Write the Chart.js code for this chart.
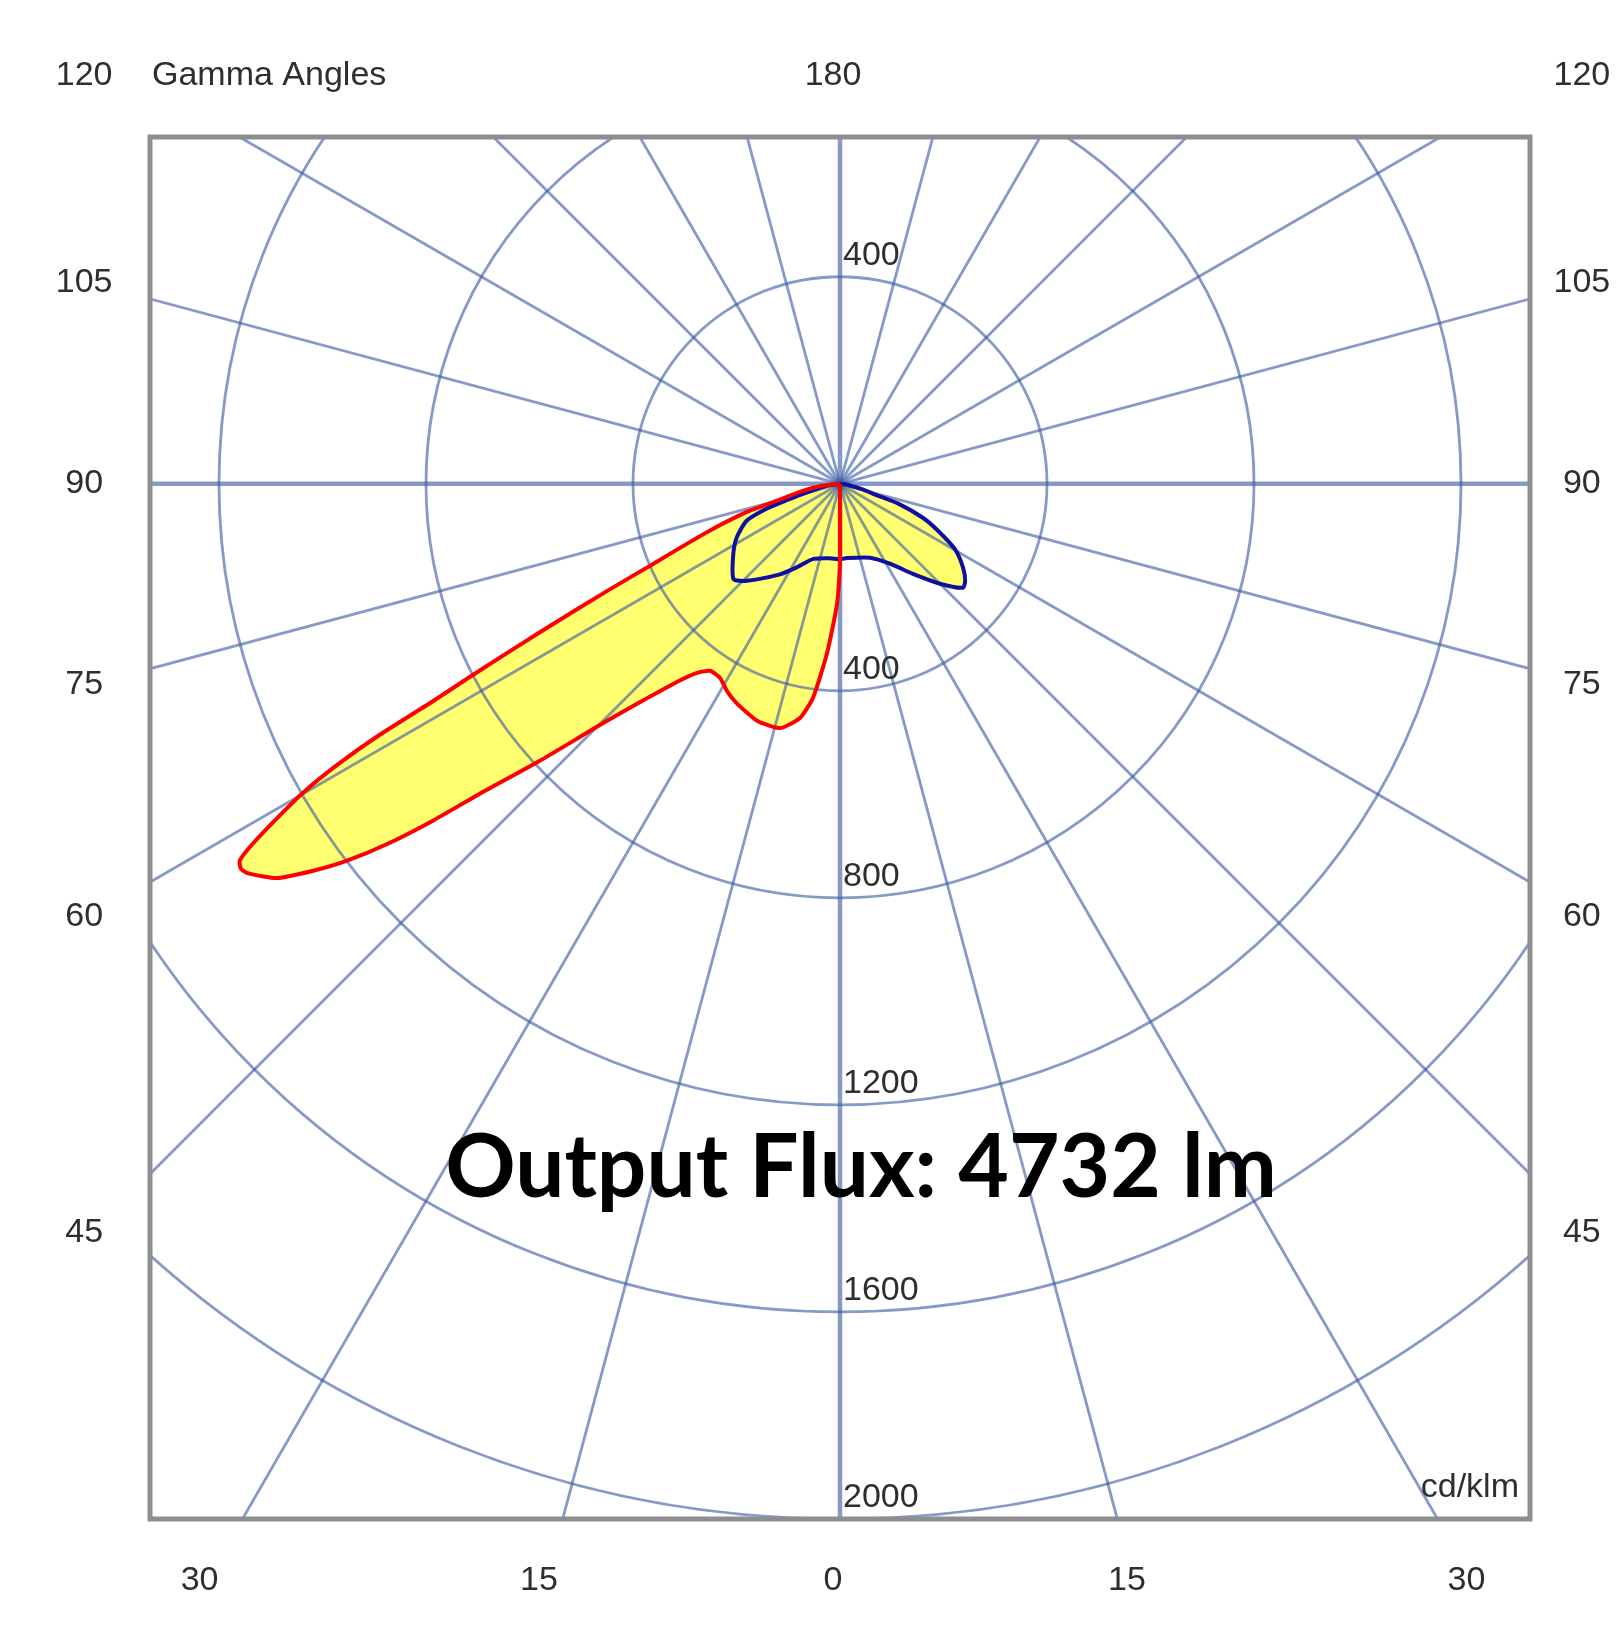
<!DOCTYPE html>
<html>
<head>
<meta charset="utf-8">
<script src="https://cdn.jsdelivr.net/npm/chart.js@4.4.1/dist/chart.umd.min.js"></script>
<style>
html,body{margin:0;padding:0;background:#ffffff;}
#wrap{width:1623px;height:1648px;position:relative;}
</style>
</head>
<body>
<div id="wrap"><canvas id="c"></canvas></div>
<script>
// ---------- data ----------
const ringValues = [400, 800, 1200, 1600, 2000, 2400];
const ringLabelsBelow = [400, 800, 1200, 1600, 2000];
const ringLabelsAbove = [400];
const radialStepDeg = 15;
const sideAngleLabels = [45, 60, 75, 90, 105, 120];
const bottomAngleLabels = [0, 15, 30];
const topAngleLabels = [180];
const axisTitle = 'Gamma Angles';
const unitLabel = 'cd/klm';
const fluxText = 'Output Flux: 4732 lm';

// red plane (C0-C180), intensity in cd/klm vs gamma (deg)
const redLeftGamma = [0, 1.4, 4.4, 7.2, 9.7, 13.8, 19.3, 25.1, 28.6, 31.7, 34.8, 37.1, 39.5, 44.5, 47.3, 49.3, 50.4, 51.5, 52.6, 53.7, 55.0, 56.7, 57.3, 57.9, 58.5, 59.3, 60.1, 60.8, 61.4, 61.9, 62.5, 63.7, 65.3, 66.8, 68.6, 70.5, 73.2, 74.2, 76.0, 78.7, 84, 90];
const redLeftI     = [155, 232, 329, 417, 459, 486, 485, 469, 456, 441, 440, 458, 497, 642, 789, 918, 1021, 1118, 1199, 1263, 1328, 1370, 1376, 1369, 1331, 1265, 1197, 1113, 1013, 891, 800, 646, 495, 393, 318, 260, 188, 149, 108, 79, 35, 0];
const redRightGamma = [0, 3, 90];
const redRightI     = [155, 0, 0];

// blue plane (C90-C270)
const blueLeftGamma = [0, 7.7, 19.5, 27.4, 33.6, 43.9, 48.2, 56.6, 62.5, 68.4, 71.2, 73, 75.4, 82, 90];
const blueLeftI     = [146, 145, 154, 182, 210, 260, 276, 247, 225, 194, 150, 105, 67, 25, 0];
const blueRightGamma = [0, 5.4, 22.1, 32, 39, 45, 49.8, 52.2, 55.7, 60.3, 64.4, 67.7, 71.1, 73.1, 76, 85, 90];
const blueRightI     = [146, 144, 154, 182, 224, 273, 311, 306, 288, 256, 210, 173, 120, 70, 45, 10, 0];

// ---------- helpers ----------
const D2R = Math.PI / 180;
function planePoints(gL, iL, gR, iR) {
  const pts = [];
  for (let k = gL.length - 1; k >= 0; k--) {
    const a = gL[k] * D2R;
    pts.push({x: -iL[k] * Math.sin(a), y: -iL[k] * Math.cos(a)});
  }
  for (let k = 1; k < gR.length; k++) {
    const a = gR[k] * D2R;
    pts.push({x: iR[k] * Math.sin(a), y: -iR[k] * Math.cos(a)});
  }
  return pts;
}

const GRID = 'rgba(60,90,165,0.62)';
const TXT = '#2e2e2e';
const LABEL_FONT = '34px "Liberation Sans", Arial, sans-serif';

const polarPlugin = {
  id: 'polarPlugin',
  beforeDatasetsDraw(chart) {
    const {ctx, chartArea: a, scales: {x, y}} = chart;
    const cx = x.getPixelForValue(0), cy = y.getPixelForValue(0);
    ctx.save();
    ctx.beginPath();
    ctx.rect(a.left, a.top, a.right - a.left, a.bottom - a.top);
    ctx.clip();
    ctx.strokeStyle = GRID;
    ctx.lineWidth = 2.8;
    for (const r of ringValues) {
      const rx = Math.abs(x.getPixelForValue(r) - cx);
      const ry = Math.abs(y.getPixelForValue(r) - cy);
      ctx.beginPath();
      ctx.ellipse(cx, cy, rx, ry, 0, 0, Math.PI * 2);
      ctx.stroke();
    }
    for (let g = 0; g < 360; g += radialStepDeg) {
      const R = 4000;
      const px = x.getPixelForValue(R * Math.sin(g * D2R));
      const py = y.getPixelForValue(-R * Math.cos(g * D2R));
      ctx.lineWidth = (g % 90 === 0) ? 4.5 : 2.8;
      ctx.beginPath();
      ctx.moveTo(cx, cy);
      ctx.lineTo(px, py);
      ctx.stroke();
    }
    ctx.restore();
  },
  afterDraw(chart) {
    const {ctx, chartArea: a, scales: {x, y}} = chart;
    const cx = x.getPixelForValue(0), cy = y.getPixelForValue(0);
    ctx.save();
    // frame
    ctx.strokeStyle = '#8e8e8e';
    ctx.lineWidth = 5;
    ctx.strokeRect(a.left, a.top, a.right - a.left, a.bottom - a.top);

    ctx.fillStyle = TXT;
    ctx.font = LABEL_FONT;
    ctx.textBaseline = 'middle';

    // ring labels
    ctx.textAlign = 'left';
    for (const v of ringLabelsBelow) ctx.fillText(String(v), cx + 3, y.getPixelForValue(-v) - 21);
    for (const v of ringLabelsAbove) ctx.fillText(String(v), cx + 3, y.getPixelForValue(v) - 21);

    // gamma labels
    const colX = 1447, rowBottom = -2120, rowTop = 788, shift = -7;
    ctx.textAlign = 'center';
    for (const g of sideAngleLabels) {
      const s = Math.sin(g * D2R), c = Math.cos(g * D2R);
      let yy = -colX * c / s;
      yy = Math.min(rowTop, Math.max(rowBottom, yy));
      const py = y.getPixelForValue(yy);
      ctx.fillText(String(g), x.getPixelForValue(-colX) + shift, py);
      ctx.fillText(String(g), x.getPixelForValue(colX) + shift, py);
    }
    for (const g of bottomAngleLabels) {
      const t = Math.tan(g * D2R);
      const py = y.getPixelForValue(rowBottom);
      ctx.fillText(String(g), x.getPixelForValue(rowBottom * t) + shift, py);
      if (g !== 0) ctx.fillText(String(g), x.getPixelForValue(-rowBottom * t) + shift, py);
    }
    for (const g of topAngleLabels) {
      ctx.fillText(String(g), x.getPixelForValue(0) + shift, y.getPixelForValue(rowTop));
    }

    // titles
    ctx.textAlign = 'left';
    ctx.fillText(axisTitle, a.left + 2, y.getPixelForValue(rowTop));
    ctx.textAlign = 'right';
    ctx.fillText(unitLabel, a.right - 11, a.bottom - 31);

    // output flux
    ctx.fillStyle = '#000000';
    let fs = 90;
    ctx.font = 'bold ' + fs + 'px Lato, "Open Sans", sans-serif';
    const w = ctx.measureText(fluxText).width;
    fs = fs * 832 / w;
    ctx.font = 'bold ' + fs.toFixed(1) + 'px Lato, "Open Sans", sans-serif';
    ctx.textAlign = 'center';
    ctx.textBaseline = 'alphabetic';
    ctx.fillText(fluxText, 861, 1197);
    ctx.restore();
  }
};

const FILL = 'rgb(255,255,112)';
new Chart(document.getElementById('c'), {
  type: 'line',
  data: {
    datasets: [
      {
        label: 'C0-C180',
        data: planePoints(redLeftGamma, redLeftI, redRightGamma, redRightI),
        borderColor: '#ff0000',
        backgroundColor: FILL,
        borderWidth: 4,
        fill: 'shape',
        tension: 0.18,
        pointRadius: 0,
        order: 1
      },
      {
        label: 'C90-C270',
        data: planePoints(blueLeftGamma, blueLeftI, blueRightGamma, blueRightI),
        borderColor: '#1010a0',
        backgroundColor: FILL,
        borderWidth: 4,
        fill: 'shape',
        tension: 0.22,
        pointRadius: 0,
        order: 2
      }
    ]
  },
  options: {
    responsive: true,
    maintainAspectRatio: false,
    devicePixelRatio: 1,
    animation: false,
    layout: {padding: {left: 150, right: 93, top: 137, bottom: 129}},
    scales: {
      x: {type: 'linear', min: -1333.3, max: 1333.3, display: false},
      y: {type: 'linear', min: -2000, max: 670, display: false}
    },
    plugins: {
      legend: {display: false},
      tooltip: {enabled: false},
      filler: {drawTime: 'beforeDatasetsDraw'}
    }
  },
  plugins: [polarPlugin]
});
</script>
</body>
</html>
